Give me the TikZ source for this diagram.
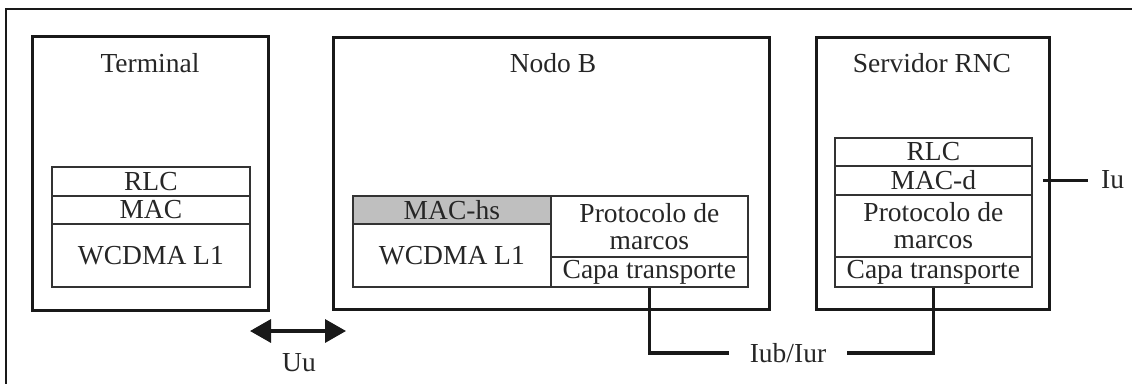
\documentclass[tikz,border=0pt]{standalone}
\usepackage{fontspec}
\setmainfont{Liberation Serif}
\usetikzlibrary{arrows.meta}

\tikzset{
	equipo/.style={draw=black!90, line width=3.4pt, inner sep=0pt, anchor=north west},
	capa/.style={draw=black!80, line width=1.7pt, inner sep=0pt, anchor=north west, text=black!85},
	enlace/.style={draw=black!90, line width=3.4pt},
	rotulo/.style={text=black!85, inner sep=0pt}
}

\begin{document}
\begin{tikzpicture}[x=1pt, y=-1pt, font=\fontsize{27.5}{31}\selectfont]
			%%%%% START %%%%%
			\useasboundingbox (0, 0) rectangle (1132, 383);
			
			% marco exterior
			\draw[line width=1.4pt, black!90] (6, 390) -- (6, 9) -- (1140, 9);
			
			% Terminal
			\node[equipo, minimum width=236, minimum height=274] (term) at (31, 35) {};
			\node[rotulo] (termt) at (150, 63) {Terminal};
			\node[capa, minimum width=198, minimum height=29] (trlc) at (51, 166) {RLC};
			\node[capa, minimum width=198, minimum height=28] (tmac) at (51, 195) {MAC};
			\node[capa, minimum width=198, minimum height=63] (tl1) at (51, 223) {WCDMA L1};
			
			% Nodo B
			\node[equipo, minimum width=436, minimum height=272] (nodob) at (332, 36) {};
			\node[rotulo] (nodobt) at (553, 63) {Nodo B};
			\node[capa, fill=black!25, minimum width=198, minimum height=28] (bmac) at (352, 195) {MAC-hs};
			\node[capa, minimum width=198, minimum height=63] (bl1) at (352, 223) {WCDMA L1};
			\node[capa, minimum width=197, minimum height=61, align=center] (bprot) at (550, 195) {Protocolo de\\[-4pt]marcos};
			\node[capa, minimum width=197, minimum height=30] (bcapa) at (550, 256) {Capa transporte};
			
			% Servidor RNC
			\node[equipo, minimum width=233, minimum height=272] (rnc) at (815, 36) {};
			\node[rotulo] (rnct) at (932, 63) {Servidor RNC};
			\node[capa, minimum width=197, minimum height=28] (rrlc) at (834, 137) {RLC};
			\node[capa, minimum width=197, minimum height=29] (rmac) at (834, 165) {MAC-d};
			\node[capa, minimum width=197, minimum height=62, align=center] (rprot) at (834, 194) {Protocolo de\\[-4pt]marcos};
			\node[capa, minimum width=197, minimum height=30] (rcapa) at (834, 256) {Capa transporte};
			
			% interfaces
			\coordinate (uuizq) at (250, 331);
			\coordinate (uuder) at (346, 331);
			\draw[enlace, {Triangle[length=21pt, width=23pt]}-{Triangle[length=21pt, width=23pt]}] (uuizq) -- (uuder);
			\node[rotulo] (uu) at (299, 363) {Uu};
			
			\node[rotulo, inner xsep=21pt] (iub) at (788, 353) {Iub/Iur};
			\draw[enlace] (bcapa.south) |- (iub.west);
			\draw[enlace] (iub.east) -| (rcapa.south);
			
			\coordinate (iuini) at ([xshift=-8pt]rnc.east |- rmac.center);
			\node[rotulo, inner xsep=13pt, anchor=west] (iu) at (1088, 180) {Iu};
			\draw[enlace] (iuini) -- (iu.west |- iuini);
			%%%%% END %%%%%
\end{tikzpicture}
\end{document}
